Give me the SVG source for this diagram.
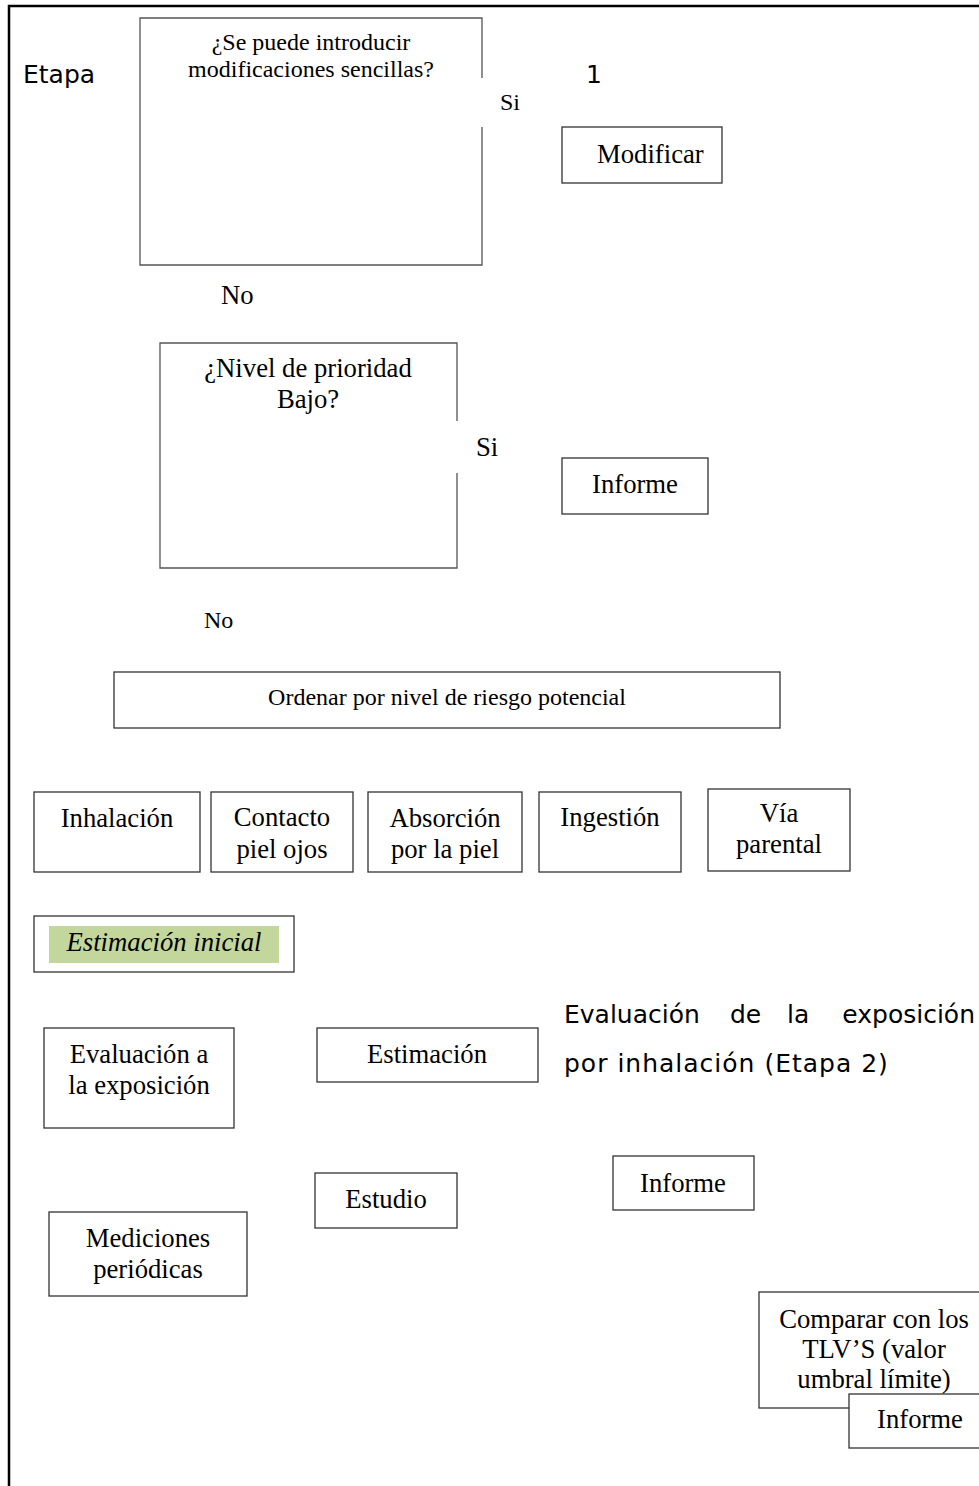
<svg xmlns="http://www.w3.org/2000/svg" width="979" height="1486" viewBox="0 0 979 1486">
<style>
.b{fill:#fff;stroke:#333;stroke-width:1.3}
.d{fill:none;stroke:#555;stroke-width:1.3}
.s{font-family:"Liberation Serif","Times New Roman",serif;font-size:26.7px;fill:#000}
.s24{font-family:"Liberation Serif","Times New Roman",serif;font-size:24px;fill:#000}
.m{text-anchor:middle}
.v{font-family:"DejaVu Sans",Verdana,sans-serif;font-size:25px;fill:#000}
</style>
<rect width="979" height="1486" fill="#fff"/>
<path d="M9,1486 V6 H979" fill="none" stroke="#000" stroke-width="2.5"/>
<text class="v" x="23" y="83" font-size="25.5px">Etapa</text>
<text class="v" x="586" y="83">1</text>
<text class="v" x="564" y="1023">Evaluación</text>
<text class="v" x="730" y="1023">de</text>
<text class="v" x="787" y="1023">la</text>
<text class="v" x="975" y="1023" text-anchor="end">exposición</text>
<text class="v" x="564" y="1072" letter-spacing="1">por inhalación (Etapa 2)</text>
<g id="connectors"></g>
<g id="q1">
<path class="d" d="M482,78 V18 H140 V265 H482 V127"/>
<text class="s24 m" x="311" y="50">¿Se puede introducir</text>
<text class="s24 m" x="311" y="77">modificaciones sencillas?</text>
</g>
<text class="s24" x="500" y="110">Si</text>
<g id="modificar">
<rect class="b" x="562" y="127" width="160" height="56"/>
<text class="s" x="597" y="163">Modificar</text>
</g>
<text class="s" x="221" y="304">No</text>
<g id="q2">
<path class="d" d="M457,421 V343 H160 V568 H457 V473"/>
<text class="s m" x="308" y="377">¿Nivel de prioridad</text>
<text class="s m" x="308" y="408">Bajo?</text>
</g>
<text class="s" x="476" y="456">Si</text>
<g id="informe1">
<rect class="b" x="562" y="458" width="146" height="56"/>
<text class="s m" x="635" y="493">Informe</text>
</g>
<text class="s24" x="204" y="628">No</text>
<g id="ordenar">
<rect class="b" x="114" y="672" width="666" height="56"/>
<text class="s24 m" x="447" y="705">Ordenar por nivel de riesgo potencial</text>
</g>
<g id="inhalacion">
<rect class="b" x="34" y="792" width="166" height="80"/>
<text class="s m" x="117" y="827">Inhalación</text>
</g>
<g id="contacto">
<rect class="b" x="211" y="792" width="142" height="80"/>
<text class="s m" x="282" y="826">Contacto</text>
<text class="s m" x="282" y="858">piel ojos</text>
</g>
<g id="absorcion">
<rect class="b" x="368" y="792" width="154" height="80"/>
<text class="s m" x="445" y="827">Absorción</text>
<text class="s m" x="445" y="858">por la piel</text>
</g>
<g id="ingestion">
<rect class="b" x="539" y="792" width="142" height="80"/>
<text class="s m" x="610" y="826">Ingestión</text>
</g>
<g id="via">
<rect class="b" x="708" y="789" width="142" height="82"/>
<text class="s m" x="779" y="822">Vía</text>
<text class="s m" x="779" y="853">parental</text>
</g>
<g id="estimacion-inicial">
<rect class="b" x="34" y="916" width="260" height="56"/>
<rect x="49" y="926" width="230" height="37" fill="#c3d69b"/>
<text class="s m" x="164" y="951" font-style="italic">Estimación inicial</text>
</g>
<g id="evaluacion">
<rect class="b" x="44" y="1028" width="190" height="100"/>
<text class="s m" x="139" y="1063">Evaluación a</text>
<text class="s m" x="139" y="1094">la exposición</text>
</g>
<g id="estimacion">
<rect class="b" x="317" y="1028" width="221" height="54"/>
<text class="s m" x="427" y="1063">Estimación</text>
</g>
<g id="estudio">
<rect class="b" x="315" y="1173" width="142" height="55"/>
<text class="s m" x="386" y="1208">Estudio</text>
</g>
<g id="informe2">
<rect class="b" x="613" y="1156" width="141" height="54"/>
<text class="s m" x="683" y="1192">Informe</text>
</g>
<g id="mediciones">
<rect class="b" x="49" y="1212" width="198" height="84"/>
<text class="s m" x="148" y="1247">Mediciones</text>
<text class="s m" x="148" y="1278">periódicas</text>
</g>
<g id="comparar">
<rect class="b" x="759" y="1292" width="230" height="116"/>
<text class="s m" x="874" y="1328">Comparar con los</text>
<text class="s m" x="874" y="1358">TLV’S (valor</text>
<text class="s m" x="874" y="1388">umbral límite)</text>
</g>
<g id="informe3">
<rect class="b" x="849" y="1394" width="140" height="54"/>
<text class="s m" x="920" y="1428">Informe</text>
</g>
</svg>
